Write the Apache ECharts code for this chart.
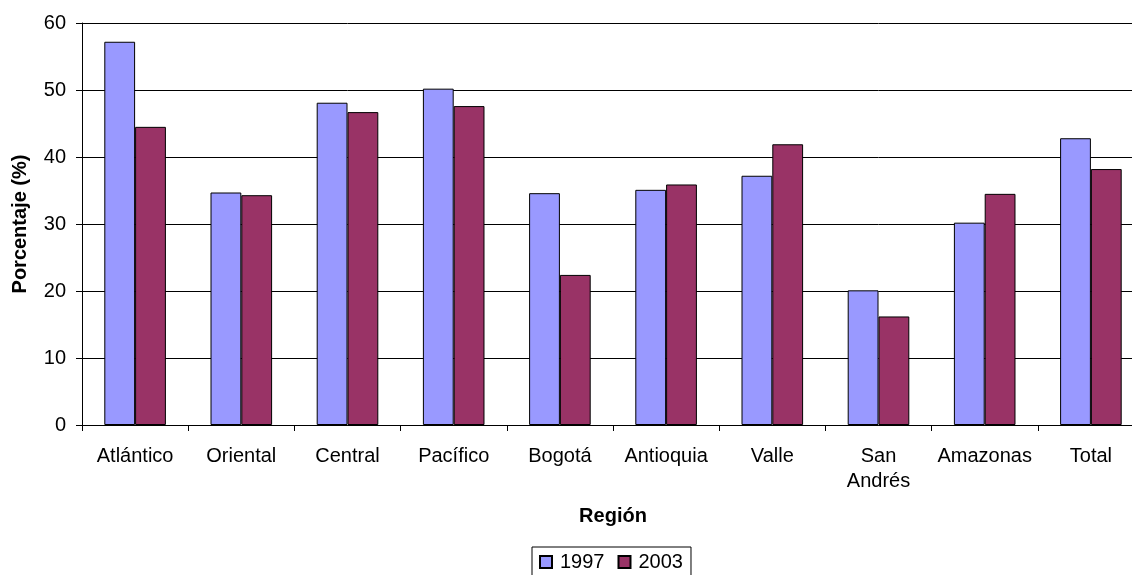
<!DOCTYPE html>
<html>
<head>
<meta charset="utf-8">
<title>Porcentaje por región, 1997 y 2003</title>
<script src="https://cdn.jsdelivr.net/npm/echarts@6/dist/echarts.min.js"></script>
<style>
  html, body { margin: 0; padding: 0; background: #fff; overflow: hidden; width: 1132px; height: 575px; }
  /* canvas is a little wider than the window so the last category is cut off at the edge */
  #chart { width: 1144px; height: 575px; }
</style>
</head>
<body>
<div id="chart"></div>
<script>
// Regions along the x axis
const regions = ['Atlántico', 'Oriental', 'Central', 'Pacífico', 'Bogotá', 'Antioquia', 'Valle', 'San\nAndrés', 'Amazonas', 'Total'];
// Percentages per region for each survey year
const values1997 = [57.2, 34.7, 48.1, 50.2, 34.6, 35.1, 37.2, 20.1, 30.2, 42.8];
const values2003 = [44.5, 34.3, 46.7, 47.6, 22.4, 35.9, 41.9, 16.2, 34.5, 38.2];
const seriesNames = ['1997', '2003'];
const yTicks = { min: 0, max: 60, step: 10 };

const FONT = 'Liberation Sans, Arial, sans-serif';
const chart = echarts.init(document.getElementById('chart'), null, { renderer: 'canvas' });

const barStyle = (color) => ({ color: color, borderColor: '#000', borderWidth: 1 });

chart.setOption({
  animation: false,
  backgroundColor: '#fff',
  textStyle: { fontFamily: FONT, color: '#000' },
  grid: { left: 82, right: 0, top: 23, height: 402, containLabel: false },
  legend: {
    data: seriesNames,
    left: 532,
    top: 547,
    orient: 'horizontal',
    padding: [5, 8, 8, 7],
    borderColor: '#000',
    borderWidth: 1,
    itemWidth: 12,
    itemHeight: 12,
    itemGap: 13,
    icon: 'rect',
    textStyle: { fontFamily: FONT, fontSize: 20, color: '#000', padding: [0, 0, 0, 3] }
  },
  xAxis: {
    type: 'category',
    data: regions,
    name: 'Región',
    nameLocation: 'middle',
    nameGap: 81,
    nameTextStyle: { fontFamily: FONT, fontSize: 20, fontWeight: 'bold', color: '#000' },
    axisLine: { lineStyle: { color: '#000', width: 1 } },
    axisTick: { show: true, length: 6, interval: 0, lineStyle: { color: '#000' } },
    axisLabel: { interval: 0, margin: 19, fontSize: 20, lineHeight: 25, color: '#000', fontFamily: FONT }
  },
  yAxis: {
    type: 'value',
    min: yTicks.min,
    max: yTicks.max,
    interval: yTicks.step,
    name: 'Porcentaje (%)',
    nameLocation: 'middle',
    nameRotate: 90,
    nameGap: 52,
    nameTextStyle: { fontFamily: FONT, fontSize: 20, fontWeight: 'bold', color: '#000' },
    axisLine: { show: true, lineStyle: { color: '#000', width: 1 } },
    axisTick: { show: true, length: 6, lineStyle: { color: '#000' } },
    axisLabel: { margin: 16, fontSize: 20, color: '#000', fontFamily: FONT },
    splitLine: { show: true, lineStyle: { color: '#000', width: 1 } }
  },
  series: [
    {
      name: seriesNames[0],
      type: 'bar',
      data: values1997,
      barGap: '0%',
      barCategoryGap: '42%',
      itemStyle: barStyle('#9999FF')
    },
    {
      name: seriesNames[1],
      type: 'bar',
      data: values2003,
      barGap: '0%',
      barCategoryGap: '42%',
      itemStyle: barStyle('#993366')
    }
  ]
});
</script>
</body>
</html>
